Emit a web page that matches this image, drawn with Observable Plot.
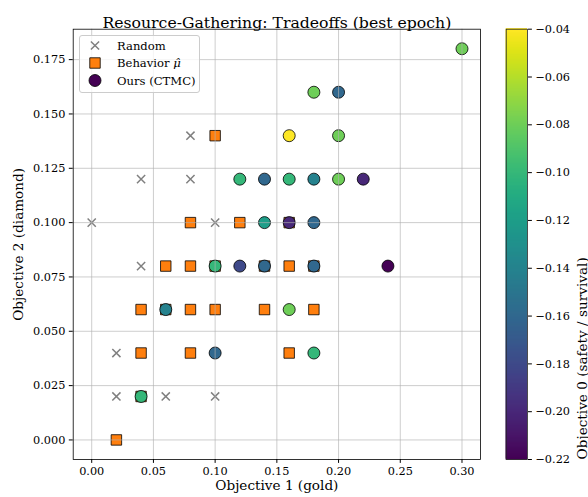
<!DOCTYPE html>
<html><head><meta charset="utf-8">
<script src="https://cdn.jsdelivr.net/npm/d3@7"></script>
<script src="https://cdn.jsdelivr.net/npm/@observablehq/plot@0.6"></script>
<style>
body{margin:0;background:#fff;}
#wrap{position:relative;width:588px;height:497px;font-family:"DejaVu Serif",serif;overflow:hidden;}
#wrap svg{position:absolute;top:0;}
#legend{position:absolute;left:79px;top:35px;width:121px;height:58px;box-sizing:border-box;border:1px solid #cccccc;border-radius:3px;background:rgba(255,255,255,0.8);}
</style></head><body><div id="wrap"></div>
<script>
// ---- data ----
const randomX = [0.08, 0.04, 0.08, 0.00, 0.10, 0.04, 0.02, 0.02, 0.06, 0.10];
const randomY = [0.14, 0.12, 0.12, 0.10, 0.10, 0.08, 0.04, 0.02, 0.02, 0.02];

const behaviorX = [0.10, 0.08, 0.12, 0.16, 0.06, 0.08, 0.10, 0.14, 0.16, 0.18, 0.04, 0.06, 0.08, 0.10, 0.14, 0.18, 0.04, 0.08, 0.16, 0.04, 0.02];
const behaviorY = [0.14, 0.10, 0.10, 0.10, 0.08, 0.08, 0.08, 0.08, 0.08, 0.08, 0.06, 0.06, 0.06, 0.06, 0.06, 0.06, 0.04, 0.04, 0.04, 0.02, 0.00];

const oursX = [0.30, 0.18, 0.20, 0.16, 0.20, 0.12, 0.14, 0.16, 0.18, 0.20, 0.22, 0.14, 0.16, 0.18, 0.10, 0.12, 0.14, 0.18, 0.24, 0.06, 0.16, 0.10, 0.18, 0.04];
const oursY = [0.18, 0.16, 0.16, 0.14, 0.14, 0.12, 0.12, 0.12, 0.12, 0.12, 0.12, 0.10, 0.10, 0.10, 0.08, 0.08, 0.08, 0.08, 0.08, 0.06, 0.06, 0.04, 0.04, 0.02];
const oursObj0 = [-0.08, -0.08, -0.16, -0.04, -0.08, -0.10, -0.16, -0.10, -0.14, -0.08, -0.20, -0.12, -0.20, -0.16, -0.10, -0.18, -0.16, -0.16, -0.22, -0.14, -0.08, -0.16, -0.10, -0.10];

const xTicks = [0, 0.05, 0.10, 0.15, 0.20, 0.25, 0.30];
const yTicks = [0, 0.025, 0.05, 0.075, 0.10, 0.125, 0.15, 0.175];
const cbTicks = [-0.22, -0.20, -0.18, -0.16, -0.14, -0.12, -0.10, -0.08, -0.06, -0.04];
const cbDomain = [-0.22, -0.04];

const title = "Resource-Gathering: Tradeoffs (best epoch)";
const xLabel = "Objective 1 (gold)";
const yLabel = "Objective 2 (diamond)";
const cbLabel = "Objective 0 (safety / survival)";
const legendLabels = ["Random", "Behavior", "Ours (CTMC)"];

// ---- build tables ----
const random = randomX.map((x, i) => ({x, y: randomY[i]}));
const behavior = behaviorX.map((x, i) => ({x, y: behaviorY[i]}));
const ours = oursX.map((x, i) => ({x, y: oursY[i], obj0: oursObj0[i]}));

const FONT = "DejaVu Serif";
const TICK = 11.3, LABEL = 13.6, TITLE = 15.7;
const gridStyle = {stroke: "#b0b0b0", strokeOpacity: 0.8, strokeWidth: 0.8};

const main = Plot.plot({
  width: 588, height: 497,
  marginLeft: 72.7, marginRight: 108, marginTop: 28.7, marginBottom: 38,
  style: {fontFamily: FONT, fontSize: TICK + "px", color: "black", background: "white"},
  x: {domain: [-0.015, 0.315]},
  y: {domain: [-0.009, 0.189]},
  color: {type: "linear", scheme: "viridis", domain: cbDomain},
  marks: [
    Plot.dot(random, {x: "x", y: "y", symbol: "times", stroke: "gray", r: 3.8, strokeWidth: 1.5}),
    Plot.dot(behavior, {x: "x", y: "y", symbol: "square", fill: "#ff7f0e", stroke: "black", strokeWidth: 0.8, r: 5.9}),
    Plot.dot(ours, {x: "x", y: "y", fill: "obj0", stroke: "black", strokeWidth: 0.8, r: 6}),
    Plot.gridX(xTicks, gridStyle),
    Plot.gridY(yTicks, gridStyle),
    Plot.axisX(xTicks, {tickFormat: d3.format(".2f"), tickSize: 3.9, tickPadding: 3.9, label: null}),
    Plot.axisY(yTicks, {tickFormat: d3.format(".3f"), tickSize: 3.9, tickPadding: 3.9, label: null}),
    Plot.frame({stroke: "black", strokeWidth: 0.8}),
    Plot.text([title], {text: d => d, frameAnchor: "top", textAnchor: "middle", dy: -12.7, fontSize: TITLE}),
    Plot.text([xLabel], {text: d => d, frameAnchor: "bottom", textAnchor: "middle", dy: 30.5, fontSize: LABEL}),
    Plot.text([yLabel], {text: d => d, frameAnchor: "left", textAnchor: "middle", dx: -55, rotate: -90, fontSize: LABEL})
  ]
});
main.style.left = "0px";

// colorbar
const N = 430;
const bands = d3.range(N).map(i => {
  const a = cbDomain[0] + (cbDomain[1] - cbDomain[0]) * i / N;
  const b = cbDomain[0] + (cbDomain[1] - cbDomain[0]) * (i + 1) / N;
  return {y1: a, y2: b, mid: (a + b) / 2};
});
const cbar = Plot.plot({
  width: 108, height: 497,
  marginLeft: 25.7, marginRight: 61, marginTop: 28.7, marginBottom: 38,
  style: {fontFamily: FONT, fontSize: TICK + "px", color: "black", background: "transparent", overflow: "visible"},
  y: {domain: cbDomain},
  color: {type: "linear", scheme: "viridis", domain: cbDomain},
  marks: [
    Plot.rect(bands, {y1: "y1", y2: "y2", fill: "mid", insetTop: -0.6, insetBottom: -0.6}),
    Plot.frame({stroke: "#222", strokeWidth: 0.8}),
    Plot.axisY(cbTicks, {anchor: "right", tickFormat: d3.format(".2f"), tickSize: 3.9, tickPadding: 4, label: null}),
    Plot.text([cbLabel], {text: d => d, frameAnchor: "right", textAnchor: "middle", dx: 55.5, dy: 114, rotate: -90, fontSize: LABEL})
  ]
});
cbar.style.left = "480px";

const wrap = document.getElementById("wrap");
wrap.appendChild(main);
wrap.appendChild(cbar);

// legend
const leg = document.createElement("div");
leg.id = "legend";
wrap.appendChild(leg);
const ls = d3.select(leg).append("svg").attr("width", 121).attr("height", 58)
  .style("position", "absolute").style("left", "-1px").style("top", "-1px")
  .style("font-family", FONT).style("font-size", "11.6px");
const rowY = [10.5, 28, 45.5];
const sx = 16;
ls.append("path").attr("transform", `translate(${sx},${rowY[0]})`)
  .attr("d", d3.symbol(d3.symbolTimes, Math.PI * 3.8 * 3.8)())
  .attr("stroke", "gray").attr("stroke-width", 1.5).attr("fill", "none");
ls.append("path").attr("transform", `translate(${sx},${rowY[1]})`)
  .attr("d", d3.symbol(d3.symbolSquare, Math.PI * 5.9 * 5.9)())
  .attr("fill", "#ff7f0e").attr("stroke", "black").attr("stroke-width", 0.8);
ls.append("circle").attr("cx", sx).attr("cy", rowY[2]).attr("r", 6)
  .attr("fill", d3.interpolateViridis(0)).attr("stroke", "black").attr("stroke-width", 0.8);
legendLabels.forEach((t, i) => {
  const tx = ls.append("text").attr("x", 38).attr("y", rowY[i]).attr("dy", "0.35em").attr("fill", "black").text(t);
  if (i === 1) tx.append("tspan").attr("font-style", "italic").text(" \u03BC\u0302");
});
</script></body></html>
